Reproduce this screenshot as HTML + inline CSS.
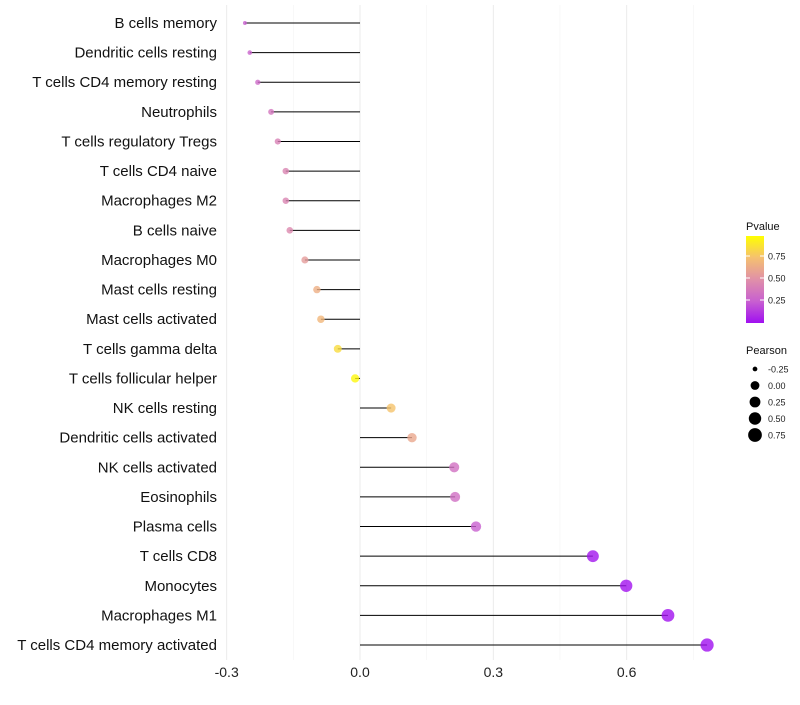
<!DOCTYPE html>
<html><head><meta charset="utf-8"><style>
body{margin:0;background:#fff;font-family:"Liberation Sans",sans-serif}
svg text{font-family:"Liberation Sans",sans-serif}
</style></head><body>
<svg id="c" width="800" height="700"></svg>
<script>
const categories=["B cells memory","Dendritic cells resting","T cells CD4 memory resting","Neutrophils","T cells regulatory  Tregs","T cells CD4 naive","Macrophages M2","B cells naive","Macrophages M0","Mast cells resting","Mast cells activated","T cells gamma delta","T cells follicular helper","NK cells resting","Dendritic cells activated","NK cells activated","Eosinophils","Plasma cells","T cells CD8","Monocytes","Macrophages M1","T cells CD4 memory activated"];
const pearson=[-0.259,-0.248,-0.23,-0.20,-0.185,-0.167,-0.167,-0.158,-0.124,-0.097,-0.088,-0.05,-0.011,0.07,0.117,0.212,0.214,0.261,0.524,0.599,0.693,0.781];
const pvalues=[0.25,0.27,0.3,0.36,0.42,0.44,0.44,0.46,0.56,0.66,0.7,0.86,0.97,0.76,0.62,0.34,0.33,0.25,0.02,0.01,0.005,0.001];
const xTicks=[-0.3,0,0.3,0.6];
const xTickLabels=["-0.3","0.0","0.3","0.6"];
const sizeLegend=[-0.25,0,0.25,0.5,0.75];
const pTicks=[0.25,0.5,0.75];
const NS="http://www.w3.org/2000/svg";
const svg=document.getElementById('c');
function el(t,a,p){const e=document.createElementNS(NS,t);for(const k in a)e.setAttribute(k,a[k]);(p||svg).appendChild(e);return e;}
const x=v=>360+v*444.4;
const y=i=>23+i*29.62;
const pmin=-0.26,pmax=0.78;
const r=v=>1.8+4.8*Math.sqrt(Math.max(0,(v-pmin)/(pmax-pmin)));
const stops=[[0,[160,16,240]],[0.25,[200,96,208]],[0.5,[224,144,168]],[0.75,[245,192,112]],[1,[255,255,0]]];
function col(p){for(let k=1;k<stops.length;k++){if(p<=stops[k][0]){const[a0,a]=stops[k-1],[b0,b]=stops[k];const f=(p-a0)/(b0-a0);return `rgb(${a.map((c,i)=>Math.round(c+(b[i]-c)*f)).join(',')})`;}}return 'rgb(255,255,0)';}
[-0.15,0.15,0.45,0.75].forEach(v=>{const g=el('line',{x1:x(v),x2:x(v),y1:5,y2:660,stroke:'#f2f2f2','stroke-width':0.6});
});
xTicks.forEach((v,i)=>{const g=el('line',{x1:x(v),x2:x(v),y1:5,y2:660,stroke:'#ebebeb','stroke-width':1});

const t=el('text',{x:x(v),y:677,'text-anchor':'middle','font-size':14,fill:'#222'});t.textContent=xTickLabels[i];
});
categories.forEach((c,i)=>{
const t=el('text',{x:217,y:y(i)+5,'text-anchor':'end','font-size':15,fill:'#111'});t.textContent=c;

const l=el('line',{x1:x(0),x2:x(pearson[i]),y1:y(i),y2:y(i),stroke:'#000','stroke-width':1});

const d=el('circle',{cx:x(pearson[i]),cy:y(i),r:r(pearson[i]),fill:col(pvalues[i]),'fill-opacity':0.8});

});
const defs=el('defs',{});const gr=el('linearGradient',{id:'g',x1:0,y1:1,x2:0,y2:0},defs);
stops.forEach(s=>el('stop',{offset:s[0],'stop-color':`rgb(${s[1].join(',')})`},gr));
const lt=el('text',{x:746,y:230,'font-size':11,fill:'#111'});lt.textContent='Pvalue';

const bar=el('rect',{x:746,y:236,width:18,height:87,fill:'url(#g)'});

const py=p=>322-p*88;
pTicks.forEach(p=>{el('line',{x1:746,x2:750,y1:py(p),y2:py(p),stroke:'#fff'});el('line',{x1:760,x2:764,y1:py(p),y2:py(p),stroke:'#fff'});
const t=el('text',{x:768,y:py(p)+3.5,'font-size':9,fill:'#222'});t.textContent=p.toFixed(2);
});
const st=el('text',{x:746,y:354,'font-size':11,fill:'#111'});st.textContent='Pearson';

sizeLegend.forEach((v,i)=>{const cy=369+i*16.5;
const c=el('circle',{cx:755,cy:cy,r:r(v)*1.05,fill:'#000'});

const t=el('text',{x:768,y:cy+3.5,'font-size':9,fill:'#222'});t.textContent=v.toFixed(2);
});
</script>
</body></html>
